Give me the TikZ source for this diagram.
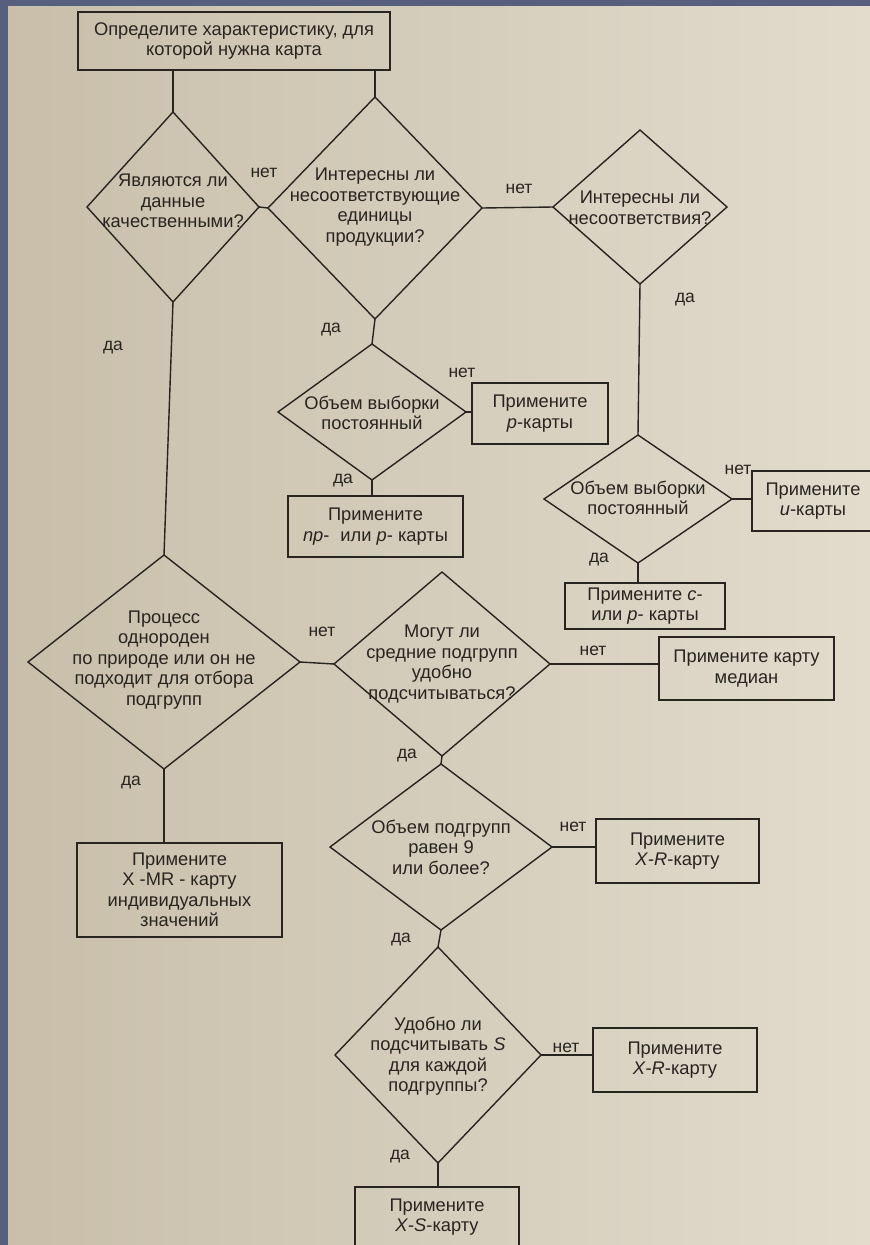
\documentclass[tikz,border=0pt]{standalone}
\usepackage{fontspec}
\setmainfont{Liberation Sans}
\usetikzlibrary{shapes.geometric}
\definecolor{paperL}{RGB}{200,190,170}
\definecolor{paperR}{RGB}{226,220,205}
\definecolor{ink}{RGB}{40,36,32}
\definecolor{frame}{RGB}{86,96,126}
\begin{document}
\begin{tikzpicture}[x=1pt,y=-1pt,
  every node/.style={font=\fontsize{18.3}{20.5}\selectfont, text=ink},
  dia/.style={diamond, draw=ink, line width=1.4pt, inner sep=0pt, outer sep=0pt},
  box/.style={rectangle, draw=ink, line width=1.4pt, inner sep=0pt, outer sep=0pt},
  txt/.style={align=center, inner sep=0pt},
  conn/.style={draw=ink, line width=1.4pt},
  lab/.style={font=\fontsize{17.5}{18}\selectfont, inner sep=0pt}]
\useasboundingbox (0,0) rectangle (870,1245);
\clip (0,0) rectangle (870,1245);
\shade[left color=paperL, right color=paperR] (0,0) rectangle (870,1245);
\fill[frame] (0,0) rectangle (8,1245);
\fill[frame] (0,0) rectangle (870,6);

% top box
\node[box, minimum width=312pt, minimum height=58pt, align=center] (top) at (234,41)
  {Определите характеристику, для\\которой нужна карта};

% diamonds
\node[dia, minimum width=172pt, minimum height=190pt] (d1) at (173,207) {};
\node[txt] (d1t) at (173,201) {Являются ли\\данные\\качественными?};
\node[dia, minimum width=214pt, minimum height=222pt] (d2) at (375,208) {};
\node[txt] (d2t) at (375,207) {Интересны ли\\несоответствующие\\единицы\\продукции?};
\node[dia, minimum width=174pt, minimum height=154pt] (d3) at (640,207) {};
\node[txt] (d3t) at (640,208) {Интересны ли\\несоответствия?};

\node[dia, minimum width=188pt, minimum height=136pt] (d4) at (372,412) {};
\node[txt] (d4t) at (372,413) {Объем выборки\\постоянный};
\node[box, minimum width=136pt, minimum height=61pt, align=center] (bp) at (540,413.5)
  {Примените\\\textit{p}-карты};
\node[box, minimum width=175pt, minimum height=61pt, align=center] (bnp) at (375.5,526.5)
  {Примените\\\textit{np}-\hspace{0.6em}или \textit{p}- карты};

\node[dia, minimum width=188pt, minimum height=128pt] (d5) at (638,499) {};
\node[txt] (d5t) at (638,498) {Объем выборки\\постоянный};
\node[box, minimum width=150pt, minimum height=60pt] (bu) at (827,501) {};
\node[txt] (but) at (813,501) {Примените\\\textit{u}-карты};
\node[box, minimum width=160pt, minimum height=46pt, align=center] (bc) at (645,606)
  {Примените \textit{c}-\\или \textit{p}- карты};

\node[dia, minimum width=272pt, minimum height=214pt] (d6) at (164,662) {};
\node[txt] (d6t) at (164,660) {Процесс\\однороден\\по природе или он не\\подходит для отбора\\подгрупп};
\node[dia, minimum width=216pt, minimum height=184pt] (d7) at (442,664) {};
\node[txt] (d7t) at (442,664) {Могут ли\\средние подгрупп\\удобно\\подсчитываться?};
\node[box, minimum width=175pt, minimum height=63pt, align=center] (bmed) at (746.5,668.5)
  {Примените карту\\медиан};

\node[dia, minimum width=222pt, minimum height=166pt] (d8) at (441,847) {};
\node[txt] (d8t) at (441,847) {Объем подгрупп\\равен 9\\или более?};
\node[box, minimum width=163pt, minimum height=64pt, align=center] (bxr1) at (677.5,851)
  {Примените\\\textit{X}-\textit{R}-карту};
\node[box, minimum width=205pt, minimum height=94pt, align=center] (bxmr) at (179.5,890)
  {Примените\\X -MR - карту\\индивидуальных\\значений};

\node[dia, minimum width=206pt, minimum height=216pt] (d9) at (438,1055) {};
\node[txt] (d9t) at (438,1056) {Удобно ли\\подсчитывать \textit{S}\\для каждой\\подгруппы?};
\node[box, minimum width=164pt, minimum height=64pt, align=center] (bxr2) at (675,1060)
  {Примените\\\textit{X}-\textit{R}-карту};
\node[box, minimum width=164pt, minimum height=80pt] (bxs) at (437,1227) {};
\node[txt] (bxst) at (437,1217) {Примените\\\textit{X}-\textit{S}-карту};

% connectors
\draw[conn] (d1.north |- top.south) -- (d1.north);
\draw[conn] (d2.north |- top.south) -- (d2.north);
\draw[conn] (d1.east) -- (d2.west);
\draw[conn] (d2.east) -- (d3.west);
\draw[conn] (d3.south) -- (d5.north);
\draw[conn] (d2.south) -- (d4.north);
\draw[conn] (d4.east) -- (bp.west |- d4.east);
\draw[conn] (d4.south) -- (d4.south |- bnp.north);
\draw[conn] (d5.east) -- (bu.west |- d5.east);
\draw[conn] (d5.south) -- (d5.south |- bc.north);
\draw[conn] (d1.south) -- (d6.north);
\draw[conn] (d6.east) -- (d7.west);
\draw[conn] (d7.east) -- (bmed.west |- d7.east);
\draw[conn] (d7.south) -- (d8.north);
\draw[conn] (d8.east) -- (bxr1.west |- d8.east);
\draw[conn] (d6.south) -- (d6.south |- bxmr.north);
\draw[conn] (d8.south) -- (d9.north);
\draw[conn] (d9.east) -- (bxr2.west |- d9.east);
\draw[conn] (d9.south) -- (d9.south |- bxs.north);

% labels
\node[lab] (l1) at (264,173) {нет};
\node[lab] (l2) at (519,189) {нет};
\node[lab] (l3) at (685,300) {да};
\node[lab] (l4) at (331,330) {да};
\node[lab] (l5) at (462,373) {нет};
\node[lab] (l6) at (343,481) {да};
\node[lab] (l7) at (738,470) {нет};
\node[lab] (l8) at (599,560) {да};
\node[lab] (l9) at (113,348) {да};
\node[lab] (l10) at (322,632) {нет};
\node[lab] (l11) at (593,651) {нет};
\node[lab] (l12) at (407,756) {да};
\node[lab] (l13) at (131,783) {да};
\node[lab] (l14) at (573,827) {нет};
\node[lab] (l15) at (401,940) {да};
\node[lab] (l16) at (566,1048) {нет};
\node[lab] (l17) at (400,1157) {да};
\end{tikzpicture}
\end{document}
